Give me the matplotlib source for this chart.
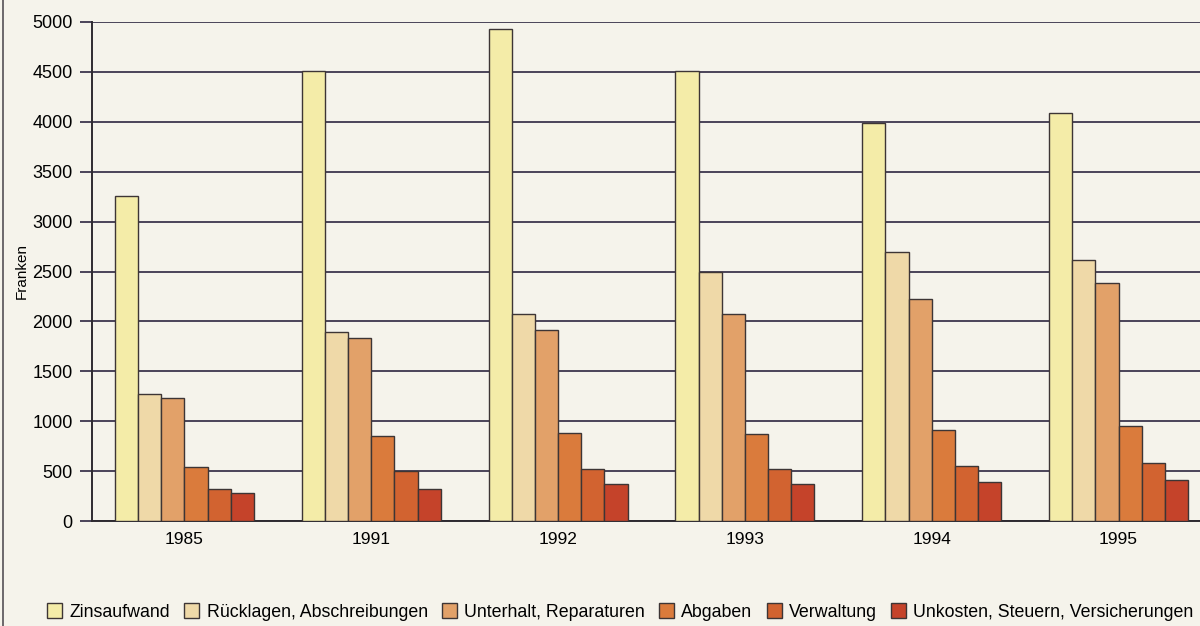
import matplotlib
matplotlib.use('Agg')
import matplotlib.pyplot as plt
from matplotlib.lines import Line2D
from matplotlib.patches import Patch
import numpy as np

plt.rcParams['font.family'] = ['Liberation Sans', 'DejaVu Sans']

# Daten
jahre = ['1985', '1991', '1992', '1993', '1994', '1995']
kategorien = ['Zinsaufwand', 'Rücklagen, Abschreibungen', 'Unterhalt, Reparaturen',
              'Abgaben', 'Verwaltung', 'Unkosten, Steuern, Versicherungen']
zinsaufwand = [3260, 4510, 4930, 4510, 3990, 4090]
ruecklagen = [1270, 1890, 2070, 2495, 2700, 2615]
unterhalt = [1230, 1830, 1910, 2070, 2225, 2385]
abgaben = [540, 855, 880, 870, 915, 950]
verwaltung = [320, 500, 520, 525, 555, 580]
unkosten = [280, 325, 375, 373, 395, 410]
farben = ['#F4ECA8', '#EFD9A8', '#E2A169', '#DA7B3C', '#D26330', '#C5432A']

werte = [zinsaufwand, ruecklagen, unterhalt, abgaben, verwaltung, unkosten]

bg = '#F5F3EB'
fig = plt.figure(figsize=(12, 6.26), dpi=100, facecolor=bg)
ax = fig.add_axes([92 / 1200, 105 / 626, 1 - 92 / 1200 + 0.01, (521 - 22) / 626])
ax.set_facecolor(bg)

x = np.arange(len(jahre))
breite = 0.124
for i, (serie, farbe) in enumerate(zip(werte, farben)):
    ax.bar(x + (i - 2.5) * breite, serie, breite, color=farbe,
           edgecolor='#3d3535', linewidth=1.0, zorder=3, label=kategorien[i])

ax.set_ylim(0, 5000)
ax.set_xlim(-0.495, 5.5)
ax.set_yticks(np.arange(0, 5001, 500))
ax.set_xticks(x)
ax.set_xticklabels(jahre, fontsize=12.5)
ax.tick_params(axis='y', length=9, width=1.4, color='#4a4458', labelsize=13, pad=5)
ax.tick_params(axis='x', length=0, pad=8)
ax.yaxis.grid(True, color='#4a4458', linewidth=1.4, zorder=0)
ax.set_axisbelow(True)
for s in ['top', 'right']:
    ax.spines[s].set_visible(False)
ax.spines['left'].set_color('#2e2a30')
ax.spines['left'].set_linewidth(1.4)
ax.spines['bottom'].set_color('#2e2a30')
ax.spines['bottom'].set_linewidth(1.4)
fig.text(22 / 1200, 1 - 271 / 626, 'Franken', rotation=90, fontsize=11,
         ha='center', va='center')

# Legende unten
handles = [Patch(facecolor=f, edgecolor='#3d3535', linewidth=1.0) for f in farben]
fig.legend(handles, kategorien, loc='center', bbox_to_anchor=(0.517, 1 - 612 / 626),
           ncol=6, frameon=False, fontsize=12.8, handlelength=0.85, handleheight=0.85,
           handletextpad=0.4, columnspacing=0.8, borderaxespad=0)

# linker Rahmen
fig.add_artist(Line2D([3 / 1200, 3 / 1200], [0, 1], color='#555055', linewidth=1.2))

fig.savefig('out.png', dpi=100, facecolor=bg)
